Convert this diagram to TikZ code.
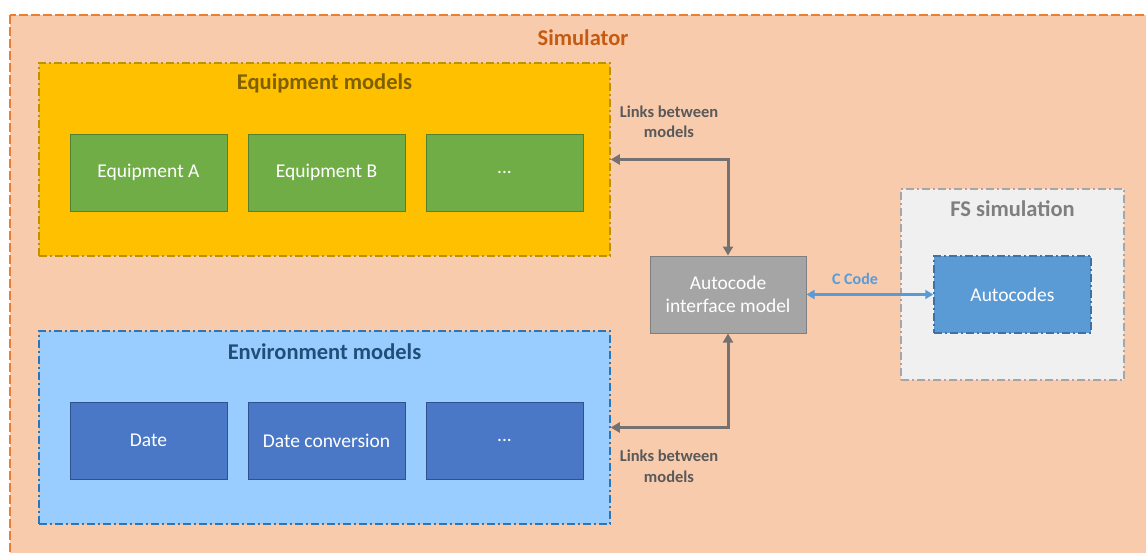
\documentclass[tikz,border=0pt]{standalone}
\usepackage{fontspec}
\setmainfont{Carlito}
\usetikzlibrary{arrows.meta}

\definecolor{simfill}{HTML}{F8CBAD}
\definecolor{simline}{HTML}{ED7D31}
\definecolor{simtext}{HTML}{C55A11}
\definecolor{eqfill}{HTML}{FFC000}
\definecolor{eqline}{HTML}{BF9000}
\definecolor{eqtext}{HTML}{7F6000}
\definecolor{grfill}{HTML}{70AD47}
\definecolor{grline}{HTML}{548235}
\definecolor{envfill}{HTML}{99CCFF}
\definecolor{envline}{HTML}{2E75B6}
\definecolor{envtext}{HTML}{1F4E79}
\definecolor{blfill}{HTML}{4A78C6}
\definecolor{blline}{HTML}{2F528F}
\definecolor{acfill}{HTML}{A5A5A5}
\definecolor{acline}{HTML}{7F7F7F}
\definecolor{fsfill}{HTML}{F0F0F0}
\definecolor{fsline}{HTML}{A6A6A6}
\definecolor{fstext}{HTML}{7F7F7F}
\definecolor{codefill}{HTML}{5B9BD5}
\definecolor{codeline}{HTML}{41719C}
\definecolor{linkgray}{HTML}{767171}
\definecolor{labelgray}{HTML}{595959}

\tikzset{
  dashdot/.style={dash pattern=on 8pt off 3pt on 2pt off 3pt},
  group/.style={rectangle, line width=1.5pt, dashdot, inner sep=0pt},
  block/.style={rectangle, line width=1pt, inner sep=0pt,
    minimum width=157pt, minimum height=77pt, text=white,
    font=\fontsize{19.5}{23.5}\selectfont, align=center},
  title/.style={font=\bfseries\fontsize{22.5}{26}\selectfont},
  linklabel/.style={font=\bfseries\fontsize{16.5}{20.5}\selectfont,
    text=labelgray, align=center},
  link/.style={line width=3pt, draw=linkgray,
    {Triangle[length=9pt,width=10pt]}-{Triangle[length=9pt,width=10pt]}},
  clink/.style={line width=2.5pt, draw=codefill,
    {Triangle[length=8pt,width=9pt]}-{Triangle[length=8pt,width=9pt]}},
}

\begin{document}
\begin{tikzpicture}[x=1pt,y=-1pt]
  \useasboundingbox (0,0) rectangle (1146,552);
  \begin{scope}
    \clip (0,0) rectangle (1146,552);
    % simulator frame
    \draw[fill=simfill, draw=simline, line width=1.5pt,
      dash pattern=on 9pt off 3pt] (10,15) rectangle (1170,580);
  \end{scope}
  \node[title, text=simtext] (simtitle) at (583,38) {Simulator};

  % equipment models group
  \node[group, fill=eqfill, draw=eqline, minimum width=571pt,
    minimum height=193pt] (eq) at (324.5,159.5) {};
  \node[title, text=eqtext] (eqtitle) at (324.5,83) {Equipment models};
  \node[block, fill=grfill, draw=grline] (eqA) at (148.5,172.5) {Equipment A};
  \node[block, fill=grfill, draw=grline] (eqB) at (326.5,172.5) {Equipment B};
  \node[block, fill=grfill, draw=grline] (eqC) at (504.5,172.5) {...};

  % environment models group
  \node[group, fill=envfill, draw=envline, minimum width=571pt,
    minimum height=193pt] (env) at (324.5,427.5) {};
  \node[title, text=envtext] (envtitle) at (324.5,352) {Environment models};
  \node[block, fill=blfill, draw=blline] (date) at (148.5,440.5) {Date};
  \node[block, fill=blfill, draw=blline] (dconv) at (326.5,440.5) {Date conversion};
  \node[block, fill=blfill, draw=blline] (envC) at (504.5,440.5) {...};

  % interface model
  \node[block, fill=acfill, draw=acline, minimum width=156pt,
    font=\fontsize{19.5}{23.5}\selectfont] (auto) at (728,294.5)
    {Autocode\\interface model};

  % flight software simulation
  \node[group, fill=fsfill, draw=fsline, minimum width=223pt,
    minimum height=191pt] (fs) at (1012.5,284.5) {};
  \node[title, text=fstext] (fstitle) at (1012.5,209) {FS simulation};
  \node[block, fill=codefill, draw=codeline, line width=1.5pt, dashdot]
    (codes) at (1012.5,294.5) {Autocodes};

  % links
  \draw[link] (eq.east) -| (auto.north);
  \draw[link] (env.east) -| (auto.south);
  \draw[clink] (auto.east) -- (codes.west);

  \node[linklabel] (ltop) at (669,122) {Links between\\models};
  \node[linklabel] (lbot) at (669,466.5) {Links between\\models};
  \node[font=\bfseries\fontsize{16}{19}\selectfont, text=codefill]
    (ccode) at (855,279) {C Code};
\end{tikzpicture}
\end{document}
